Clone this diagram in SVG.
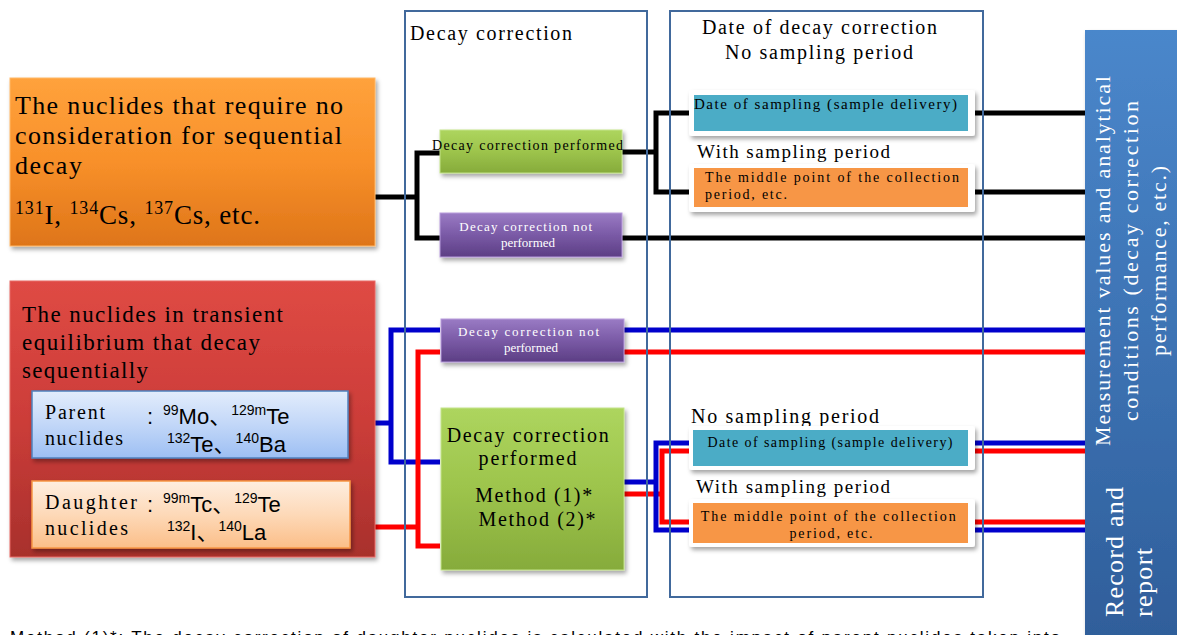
<svg xmlns="http://www.w3.org/2000/svg" width="1177" height="635" viewBox="0 0 1177 635">
<defs>
<style>
.serif{font-family:"Liberation Serif","Times New Roman",serif;fill:#000}
.sans{font-family:"Liberation Sans","Noto Sans CJK JP",sans-serif;fill:#000}
.wt{fill:#fff}
.frame{fill:none;stroke:#41699C;stroke-width:2}
.blk{fill:none;stroke:#000;stroke-width:5}
.blu{fill:none;stroke:#0000CC;stroke-width:5}
.red{fill:none;stroke:#FF0000;stroke-width:5}
</style>
<filter id="sh" x="-10%" y="-10%" width="130%" height="140%">
<feDropShadow dx="2" dy="3" stdDeviation="2" flood-color="#000" flood-opacity="0.35"/>
</filter>
<linearGradient id="gOr" x1="0" y1="0" x2="0" y2="1">
<stop offset="0" stop-color="#FFA23C"/><stop offset="0.5" stop-color="#F8902A"/><stop offset="1" stop-color="#DE7519"/>
</linearGradient>
<linearGradient id="gRed" x1="0" y1="0" x2="0" y2="1">
<stop offset="0" stop-color="#DF4A44"/><stop offset="0.5" stop-color="#CC3D39"/><stop offset="1" stop-color="#A8302C"/>
</linearGradient>
<linearGradient id="gGr" x1="0" y1="0" x2="0" y2="1">
<stop offset="0" stop-color="#ADD55E"/><stop offset="0.5" stop-color="#9DC44C"/><stop offset="1" stop-color="#86AB3B"/>
</linearGradient>
<linearGradient id="gPu" x1="0" y1="0" x2="0" y2="1">
<stop offset="0" stop-color="#9A7BC4"/><stop offset="0.5" stop-color="#7A5AA6"/><stop offset="1" stop-color="#5C3E84"/>
</linearGradient>
<linearGradient id="gBl" x1="0" y1="0" x2="0" y2="1">
<stop offset="0" stop-color="#4A87CB"/><stop offset="0.5" stop-color="#3D73B4"/><stop offset="1" stop-color="#2F5E9A"/>
</linearGradient>
<linearGradient id="gPar" x1="0" y1="0" x2="0" y2="1">
<stop offset="0" stop-color="#E3EDFC"/><stop offset="0.5" stop-color="#C2D7F8"/><stop offset="1" stop-color="#9DBFF3"/>
</linearGradient>
<linearGradient id="gDau" x1="0" y1="0" x2="0" y2="1">
<stop offset="0" stop-color="#FEEEE0"/><stop offset="0.5" stop-color="#FDD9B8"/><stop offset="1" stop-color="#FBBE88"/>
</linearGradient>
</defs>

<rect width="1177" height="635" fill="#fff"/>

<g id="connectors">
<path class="blk" d="M375,197 H417"/>
<path class="blk" d="M440,153 H417 V238 H440"/>
<path class="blk" d="M622,152 H656"/>
<path class="blk" d="M690,113 H656 V192 H690"/>
<path class="blk" d="M975,113 H1085"/>
<path class="blk" d="M975,192 H1085"/>
<path class="blk" d="M622,238 H1085"/>
<path class="blu" d="M348,423 H391"/>
<path class="blu" d="M440,330 H391 V462 H440"/>
<path class="blu" d="M623,330 H1085"/>
<path class="red" d="M350,527 H418"/>
<path class="red" d="M440,352 H418 V546 H440"/>
<path class="red" d="M623,352 H1085"/>
<path class="blu" d="M624,482 H656"/>
<path class="red" d="M624,494 H662"/>
<path class="blu" d="M690,443 H656 V530 H690"/>
<path class="red" d="M690,451 H662 V522 H690"/>
<path class="blu" d="M975,443 H1085"/>
<path class="red" d="M975,451 H1085"/>
<path class="red" d="M975,522 H1085"/>
<path class="blu" d="M975,530 H1085"/>
</g>

<g id="frame-decay">
<rect class="frame" x="405" y="11" width="242" height="586"/>
<text class="serif" x="410" y="40" font-size="20" textLength="162" lengthAdjust="spacing">Decay correction</text>
</g>

<g id="frame-date">
<rect class="frame" x="670" y="11" width="313" height="586"/>
<text class="serif" x="702" y="34" font-size="20" textLength="235" lengthAdjust="spacing">Date of decay correction</text>
<text class="serif" x="725" y="59" font-size="20" textLength="188" lengthAdjust="spacing">No sampling period</text>
</g>

<g id="node-no-sequential">
<rect x="10" y="78" width="365" height="168" fill="url(#gOr)" stroke="#FFB766" stroke-width="1" filter="url(#sh)"/>
<text class="serif" font-size="26">
<tspan x="15" y="114" textLength="328" lengthAdjust="spacing">The nuclides that require no</tspan>
<tspan x="15" y="144" textLength="327" lengthAdjust="spacing">consideration for sequential</tspan>
<tspan x="15" y="174" textLength="67" lengthAdjust="spacing">decay</tspan>
</text>
<text class="serif" x="15" y="224" font-size="27" textLength="245" lengthAdjust="spacing"><tspan font-size="18" dy="-10">131</tspan><tspan dy="10">I, </tspan><tspan font-size="18" dy="-10">134</tspan><tspan dy="10">Cs, </tspan><tspan font-size="18" dy="-10">137</tspan><tspan dy="10">Cs, etc.</tspan></text>
</g>

<g id="node-transient">
<rect x="10" y="281" width="365" height="276" fill="url(#gRed)" stroke="#E86A64" stroke-width="1" filter="url(#sh)"/>
<text class="serif" font-size="23">
<tspan x="22" y="322" textLength="261" lengthAdjust="spacing">The nuclides in transient</tspan>
<tspan x="22" y="350" textLength="238" lengthAdjust="spacing">equilibrium that decay</tspan>
<tspan x="22" y="378" textLength="126" lengthAdjust="spacing">sequentially</tspan>
</text>
</g>

<g id="node-parent">
<rect x="32" y="391" width="316" height="67" fill="url(#gPar)" stroke="#4F81BD" stroke-width="1.5" filter="url(#sh)"/>
<text class="serif" font-size="20">
<tspan x="45" y="419" textLength="60" lengthAdjust="spacing">Parent</tspan>
<tspan x="45" y="445" textLength="78" lengthAdjust="spacing">nuclides</tspan>
</text>
<text class="sans" x="147" y="424" font-size="22">:</text>
<text class="sans" x="163" y="424" font-size="22"><tspan font-size="14" dy="-9">99</tspan><tspan dy="9">Mo、</tspan><tspan font-size="14" dy="-9">129m</tspan><tspan dy="9">Te</tspan></text>
<text class="sans" x="167" y="452" font-size="22"><tspan font-size="14" dy="-9">132</tspan><tspan dy="9">Te、</tspan><tspan font-size="14" dy="-9">140</tspan><tspan dy="9">Ba</tspan></text>
</g>

<g id="node-daughter">
<rect x="32" y="481" width="318" height="67" fill="url(#gDau)" stroke="#F79646" stroke-width="1.5" filter="url(#sh)"/>
<text class="serif" font-size="20">
<tspan x="45" y="509" textLength="92" lengthAdjust="spacing">Daughter</tspan>
<tspan x="45" y="535" textLength="83" lengthAdjust="spacing">nuclides</tspan>
</text>
<text class="sans" x="147" y="512" font-size="22">:</text>
<text class="sans" x="163" y="512" font-size="22"><tspan font-size="14" dy="-9">99m</tspan><tspan dy="9">Tc、</tspan><tspan font-size="14" dy="-9">129</tspan><tspan dy="9">Te</tspan></text>
<text class="sans" x="167" y="540" font-size="22"><tspan font-size="14" dy="-9">132</tspan><tspan dy="9">I、</tspan><tspan font-size="14" dy="-9">140</tspan><tspan dy="9">La</tspan></text>
</g>

<g id="node-dc-performed-1">
<rect x="440" y="130" width="182" height="43" fill="url(#gGr)" stroke="#C3E38A" stroke-width="1" filter="url(#sh)"/>
<text class="serif" x="432" y="150" font-size="14" textLength="191" lengthAdjust="spacing">Decay correction performed</text>
</g>

<g id="node-dc-not-1">
<rect x="440" y="213" width="182" height="44" fill="url(#gPu)" stroke="#B79BDB" stroke-width="1" filter="url(#sh)"/>
<text class="serif wt" font-size="13" text-anchor="middle">
<tspan x="528" y="231" textLength="133" lengthAdjust="spacing">Decay correction not</tspan>
<tspan x="528" y="247">performed</tspan>
</text>
</g>

<g id="node-dc-not-2">
<rect x="441" y="319" width="183" height="43" fill="url(#gPu)" stroke="#B79BDB" stroke-width="1" filter="url(#sh)"/>
<text class="serif wt" font-size="13" text-anchor="middle">
<tspan x="531" y="336" textLength="141" lengthAdjust="spacing">Decay correction not</tspan>
<tspan x="531" y="352">performed</tspan>
</text>
</g>

<g id="node-dc-performed-2">
<rect x="441" y="408" width="183" height="162" fill="url(#gGr)" stroke="#C3E38A" stroke-width="1" filter="url(#sh)"/>
<text class="serif" font-size="20" text-anchor="middle">
<tspan x="531" y="442" textLength="162" lengthAdjust="spacing">Decay correction</tspan>
<tspan x="531" y="465" textLength="98" lengthAdjust="spacing">performed</tspan>
<tspan x="537" y="502" textLength="117" lengthAdjust="spacing">Method (1)*</tspan>
<tspan x="537" y="526" textLength="117" lengthAdjust="spacing">Method (2)*</tspan>
</text>
</g>

<g id="node-date-sampling-1">
<rect x="689" y="90" width="286" height="46" rx="3" fill="#fff" filter="url(#sh)"/>
<rect x="694" y="95" width="274" height="36" fill="#4BACC6"/>
<text class="serif" x="694" y="109" font-size="15" textLength="263" lengthAdjust="spacing">Date of sampling (sample delivery)</text>
</g>

<g id="label-with-1">
<text class="serif" x="697" y="158" font-size="19" textLength="193" lengthAdjust="spacing">With sampling period</text>
</g>

<g id="node-middle-1">
<rect x="689" y="164" width="286" height="48" rx="3" fill="#fff" filter="url(#sh)"/>
<rect x="694" y="168" width="274" height="39" fill="#F79646"/>
<text class="serif" font-size="14">
<tspan x="705" y="182" textLength="254" lengthAdjust="spacing">The middle point of the collection</tspan>
<tspan x="705" y="199" textLength="82" lengthAdjust="spacing">period, etc.</tspan>
</text>
</g>

<g id="label-no-2">
<text class="serif" x="691" y="423" font-size="20" textLength="188" lengthAdjust="spacing">No sampling period</text>
</g>

<g id="node-date-sampling-2">
<rect x="689" y="426" width="286" height="44" rx="3" fill="#fff" filter="url(#sh)"/>
<rect x="693" y="430" width="275" height="36" fill="#4BACC6"/>
<text class="serif" x="830" y="447" font-size="14" text-anchor="middle" textLength="245" lengthAdjust="spacing">Date of sampling (sample delivery)</text>
</g>

<g id="label-with-2">
<text class="serif" x="696" y="493" font-size="19" textLength="194" lengthAdjust="spacing">With sampling period</text>
</g>

<g id="node-middle-2">
<rect x="689" y="499" width="286" height="48" rx="3" fill="#fff" filter="url(#sh)"/>
<rect x="693" y="503" width="275" height="40" fill="#F79646"/>
<text class="serif" font-size="14" text-anchor="middle">
<tspan x="831" y="521" textLength="255" lengthAdjust="spacing">The middle point of the collection</tspan>
<tspan x="831" y="538" textLength="83" lengthAdjust="spacing">period, etc.</tspan>
</text>
</g>

<g id="node-record">
<rect x="1085" y="30" width="96" height="610" fill="url(#gBl)" filter="url(#sh)"/>
<g class="serif wt" font-size="22" text-anchor="middle">
<text transform="translate(1110,261) rotate(-90)" textLength="370" lengthAdjust="spacing">Measurement values and analytical</text>
<text transform="translate(1138,261) rotate(-90)" textLength="320" lengthAdjust="spacing">conditions (decay correction</text>
<text transform="translate(1166,261) rotate(-90)" textLength="190" lengthAdjust="spacing">performance, etc.)</text>
</g>
<g class="serif wt" font-size="26">
<text transform="translate(1123,617) rotate(-90)" textLength="130" lengthAdjust="spacing">Record and</text>
<text transform="translate(1152,617) rotate(-90)" textLength="69" lengthAdjust="spacing">report</text>
</g>
</g>

<g id="footnote">
<text class="sans" x="10" y="643" font-size="17" textLength="1050" lengthAdjust="spacing">Method (1)*: The decay correction of daughter nuclides is calculated with the impact of parent nuclides taken into</text>
</g>
</svg>
